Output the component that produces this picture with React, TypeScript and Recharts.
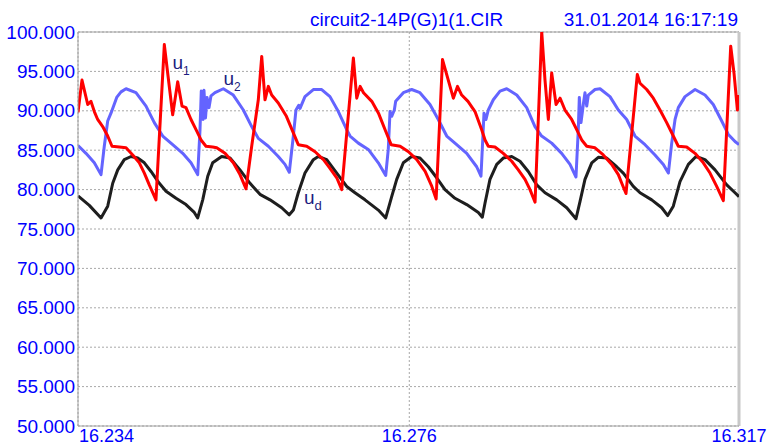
import React from 'react';
import { LineChart, Line, XAxis, YAxis, CartesianGrid, ReferenceLine } from 'recharts';

// time axis: milliseconds after 16.2344 s
const X_TICKS = [0, 41.6, 83.0];
const X_TICK_LABELS = ['16.234', '16.276', '16.317'];
const Y_TICKS = [50, 55, 60, 65, 70, 75, 80, 85, 90, 95, 100];
const TITLE = 'circuit2-14P(G)1(1.CIR';
const TIMESTAMP = '31.01.2014 16:17:19';

// u1 (red)
const U1: [number, number][] = [
  [0, 89.8], [0.5, 93.9], [1.22, 90.8], [1.63, 91.2], [2.05, 89.9], [2.47, 88.9], [3.1, 88.0], [3.73, 86.8],
  [4.27, 85.5], [5.19, 85.4], [6.03, 85.3], [6.87, 84.4], [7.7, 83.4], [8.33, 82.1], [8.95, 80.6], [9.79, 78.7],
  [10.84, 98.4], [11.26, 94.8], [11.89, 89.5], [12.52, 93.7], [13.06, 90.6], [13.56, 90.4], [14.19, 88.9],
  [14.82, 87.6], [15.45, 86.3], [16.07, 85.5], [16.91, 85.4], [17.42, 85.3], [18.46, 84.6], [19.5, 83.4],
  [20.34, 81.9], [21.1, 80.1], [21.81, 85.5], [22.64, 91.4], [23.07, 96.9], [23.48, 91.4], [23.9, 93.1],
  [24.32, 92.0], [25.15, 91.0], [26.17, 89.3], [27.04, 87.2], [27.66, 85.7], [28.72, 85.5], [29.77, 84.8],
  [30.82, 83.8], [31.64, 82.7], [32.49, 81.5], [33.12, 80.0], [34.58, 96.7], [35.0, 91.6], [35.43, 93.1],
  [35.85, 92.3], [36.89, 91.2], [37.73, 89.7], [38.56, 87.6], [39.32, 85.7], [40.45, 85.5], [41.5, 84.8],
  [42.54, 83.8], [43.59, 82.3], [44.43, 80.4], [44.97, 78.8], [45.77, 96.5], [47.13, 91.6], [47.65, 93.1],
  [48.18, 92.0], [48.97, 91.2], [49.85, 89.9], [50.69, 87.6], [51.11, 86.3], [51.52, 85.5], [52.36, 85.4],
  [53.4, 84.6], [54.46, 83.6], [55.29, 82.5], [56.13, 81.3], [56.76, 80.0], [57.39, 78.4], [58.23, 100.0],
  [58.64, 93.9], [59.06, 88.9], [59.48, 94.8], [60.03, 90.8], [60.53, 91.6], [61.15, 90.1], [61.99, 88.9],
  [62.62, 87.6], [63.25, 86.3], [63.88, 85.5], [64.92, 85.3], [65.96, 84.4], [67.02, 83.2], [67.85, 81.9],
  [68.28, 80.8], [68.81, 79.5], [70.23, 94.6], [70.57, 93.5], [71.41, 92.7], [72.24, 91.6], [73.08, 90.1],
  [73.92, 88.5], [74.75, 86.8], [75.38, 85.5], [76.43, 85.4], [77.48, 84.6], [78.52, 83.4], [79.36, 82.1],
  [80.2, 80.4], [81.03, 78.6], [81.96, 98.2], [82.37, 94.8], [82.8, 90.1], [83.0, 92.0],
];

// u2 (blue)
const U2: [number, number][] = [
  [0, 85.6], [1.0, 84.6], [2.05, 83.4], [2.89, 81.9], [3.3, 85.5], [3.73, 88.7], [4.14, 89.7], [4.86, 91.7],
  [5.4, 92.4], [6.03, 92.8], [7.28, 92.3], [8.54, 90.6], [9.58, 88.5], [10.64, 86.8], [11.89, 85.7],
  [13.15, 84.6], [14.19, 83.4], [15.03, 81.9], [15.32, 87.6], [15.48, 92.5], [15.7, 88.9], [15.82, 92.6],
  [16.01, 89.1], [16.2, 91.7], [16.45, 90.4], [16.7, 91.9], [17.2, 92.3], [18.25, 92.8], [19.5, 92.0],
  [20.76, 90.1], [21.81, 88.0], [22.64, 86.5], [23.9, 85.5], [25.15, 84.2], [25.99, 83.2], [26.53, 82.2],
  [27.04, 86.8], [27.37, 90.1], [27.72, 90.7], [27.88, 90.3], [28.5, 91.8], [29.55, 92.7], [30.6, 92.7],
  [31.64, 91.8], [32.69, 89.9], [33.74, 87.6], [34.16, 86.8], [35.2, 85.9], [36.45, 85.1], [37.71, 83.4],
  [38.64, 81.8], [38.96, 85.1], [39.18, 89.9], [39.39, 89.3], [39.72, 90.1], [39.89, 91.2], [40.85, 92.3],
  [41.9, 92.7], [42.94, 92.3], [44.2, 90.8], [45.24, 88.9], [46.3, 86.8], [47.55, 85.7], [48.81, 84.6],
  [50.06, 82.9], [50.6, 81.7], [50.82, 86.3], [50.98, 89.7], [51.23, 88.9], [51.52, 90.1], [52.15, 91.4],
  [52.99, 92.5], [53.83, 92.8], [55.09, 92.0], [56.34, 90.4], [57.38, 88.0], [58.22, 86.8], [59.48, 85.9],
  [60.73, 84.6], [61.78, 83.2], [62.53, 81.6], [62.82, 87.6], [62.95, 91.7], [63.16, 88.5], [63.45, 90.8],
  [63.66, 92.3], [63.88, 90.6], [64.08, 92.0], [64.92, 92.7], [65.55, 92.8], [66.8, 91.8], [67.85, 90.1],
  [68.9, 88.9], [69.94, 86.8], [71.2, 85.7], [72.45, 84.4], [73.5, 83.2], [74.13, 82.1], [74.55, 85.9],
  [74.97, 88.9], [75.38, 90.4], [76.22, 91.8], [77.48, 92.7], [78.73, 92.0], [79.77, 90.8], [80.83, 88.7],
  [81.66, 87.0], [82.5, 86.1], [83.0, 85.7],
];

// ud (black)
const UD: [number, number][] = [
  [0, 79.2], [1.42, 78.0], [2.89, 76.4], [3.73, 77.9], [4.36, 80.8], [4.99, 82.5], [5.81, 83.8], [6.66, 84.2],
  [7.5, 84.0], [8.33, 83.4], [9.17, 82.3], [10.21, 80.8], [11.05, 79.8], [12.31, 78.9], [13.56, 78.1],
  [14.6, 77.1], [15.03, 76.4], [15.66, 78.7], [16.29, 81.7], [16.91, 83.4], [18.04, 84.2], [19.09, 84.0],
  [20.34, 82.5], [21.6, 80.8], [22.85, 79.4], [24.11, 78.7], [25.58, 77.7], [26.53, 76.8], [27.04, 77.4],
  [27.66, 79.6], [28.5, 82.1], [29.55, 83.8], [30.17, 84.2], [31.23, 83.8], [32.49, 82.1], [33.74, 80.4],
  [34.78, 79.6], [36.04, 78.7], [37.71, 77.4], [38.64, 76.4], [39.39, 79.1], [40.02, 81.3], [40.85, 83.4],
  [41.9, 84.2], [42.94, 84.0], [43.99, 82.9], [45.04, 81.5], [46.08, 80.0], [47.34, 78.9], [48.81, 78.1],
  [50.27, 77.1], [50.77, 76.5], [51.11, 78.3], [51.73, 81.3], [52.58, 83.2], [53.4, 84.0], [54.46, 84.2],
  [55.5, 83.6], [56.54, 82.3], [57.6, 80.6], [58.64, 79.6], [60.11, 78.7], [61.37, 77.7], [62.53, 76.3],
  [63.04, 78.5], [63.66, 81.3], [64.51, 83.4], [65.33, 84.1], [66.39, 84.0], [67.64, 82.9], [68.47, 82.1],
  [69.73, 80.4], [70.57, 79.6], [72.04, 78.7], [73.3, 77.7], [74.05, 76.7], [74.75, 77.9], [75.59, 81.0],
  [76.64, 83.2], [77.6, 84.2], [78.73, 83.8], [79.99, 82.5], [81.46, 80.6], [82.5, 79.6], [83.0, 79.1],
];

const FONT = "'Liberation Sans', Arial, sans-serif";
const BLUE_TEXT = '#0000ff';
const LABEL_COLOR = '#1c1c80';

const rows = (pts: [number, number][]) => pts.map(([t, v]) => ({ t, v }));

const XTick = (props: any) => {
  const { x, y, payload } = props;
  const i = X_TICKS.indexOf(payload.value);
  const first = i === 0;
  return (
    <text x={first ? x + 1 : x} y={y + 16} textAnchor={first ? 'start' : 'middle'} fill={BLUE_TEXT} fontSize={18} fontFamily={FONT}>
      {X_TICK_LABELS[i]}
    </text>
  );
};

const YTick = (props: any) => {
  const { x, y, payload } = props;
  return (
    <text x={x} y={y + 6.5} textAnchor="end" fill={BLUE_TEXT} fontSize={19} fontFamily={FONT}>
      {Number(payload.value).toFixed(3)}
    </text>
  );
};

export default function App() {
  return (
    <div style={{ position: 'absolute', left: 0, top: 0, width: 770, height: 446, background: '#fff' }}>
      <LineChart width={770} height={446} margin={{ top: 32, right: 31, bottom: 0, left: 0 }}>
        <CartesianGrid stroke="#a8a8a8" strokeDasharray="2 2" />
        <XAxis
          type="number"
          dataKey="t"
          domain={[0, 83]}
          ticks={X_TICKS}
          interval={0}
          tickSize={0}
          tickMargin={0}
          height={20}
          axisLine={{ stroke: '#a0a0a0' }}
          tickLine={false}
          tick={(p: any) => <XTick {...p} />}
          allowDataOverflow
        />
        <YAxis
          type="number"
          domain={[50, 100]}
          ticks={Y_TICKS}
          interval={0}
          width={78}
          tickSize={0}
          tickMargin={3}
          axisLine={{ stroke: '#a0a0a0' }}
          tickLine={false}
          tick={(p: any) => <YTick {...p} />}
          allowDataOverflow
        />
        <ReferenceLine y={100} stroke="#a0a0a0" />
        <ReferenceLine x={83} stroke="#c8c8c8" strokeWidth={3} />
        <Line data={rows(U2)} dataKey="v" type="linear" stroke="#6464ff" strokeWidth={3} dot={false} activeDot={false} isAnimationActive={false} strokeLinejoin="round" />
        <Line data={rows(UD)} dataKey="v" type="linear" stroke="#1e1e1e" strokeWidth={3} dot={false} activeDot={false} isAnimationActive={false} strokeLinejoin="round" />
        <Line data={rows(U1)} dataKey="v" type="linear" stroke="#ff0000" strokeWidth={3} dot={false} activeDot={false} isAnimationActive={false} strokeLinejoin="round" />
      </LineChart>
      <svg width={770} height={446} style={{ position: 'absolute', left: 0, top: 0, pointerEvents: 'none' }}>
        <text x={310} y={26} fill={BLUE_TEXT} fontSize={19} fontFamily={FONT}>{TITLE}</text>
        <text x={738} y={26} textAnchor="end" fill={BLUE_TEXT} fontSize={19} fontFamily={FONT}>{TIMESTAMP}</text>
        <text x={172.5} y={69} fill={LABEL_COLOR} fontSize={19} fontFamily={FONT}>
          u<tspan fontSize={12} dy={6}>1</tspan>
        </text>
        <text x={223.5} y={85} fill={LABEL_COLOR} fontSize={19} fontFamily={FONT}>
          u<tspan fontSize={12} dy={6}>2</tspan>
        </text>
        <text x={304} y={204} fill={LABEL_COLOR} fontSize={19} fontFamily={FONT}>
          u<tspan fontSize={13} dy={6}>d</tspan>
        </text>
      </svg>
    </div>
  );
}
